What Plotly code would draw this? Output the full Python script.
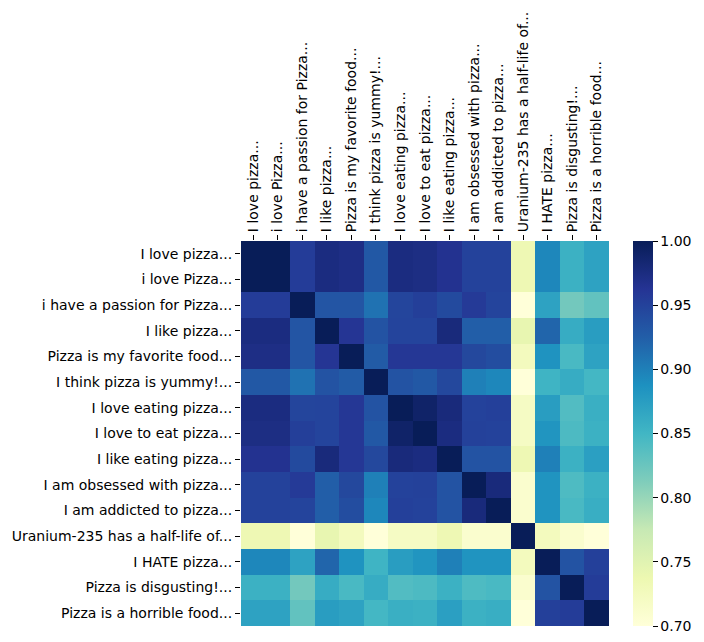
import plotly.graph_objects as go

labels = [
    "I love pizza...", "i love Pizza...", "i have a passion for Pizza...",
    "I like pizza...", "Pizza is my favorite food...", "I think pizza is yummy!...",
    "I love eating pizza...", "I love to eat pizza...", "I like eating pizza...",
    "I am obsessed with pizza...", "I am addicted to pizza...",
    "Uranium-235 has a half-life of...", "I HATE pizza...",
    "Pizza is disgusting!...", "Pizza is a horrible food...",
]

row_00 = [1.000, 1.000, 0.955, 0.975, 0.972, 0.930, 0.975, 0.973, 0.965, 0.950, 0.950, 0.735, 0.895, 0.855, 0.870]
row_01 = [1.000, 1.000, 0.955, 0.975, 0.972, 0.930, 0.975, 0.973, 0.965, 0.950, 0.950, 0.735, 0.895, 0.855, 0.870]
row_02 = [0.955, 0.955, 1.000, 0.933, 0.933, 0.910, 0.947, 0.953, 0.943, 0.957, 0.948, 0.700, 0.870, 0.820, 0.830]
row_03 = [0.975, 0.975, 0.933, 1.000, 0.962, 0.935, 0.948, 0.948, 0.978, 0.925, 0.925, 0.742, 0.920, 0.860, 0.875]
row_04 = [0.972, 0.972, 0.933, 0.962, 1.000, 0.928, 0.960, 0.960, 0.960, 0.945, 0.940, 0.725, 0.885, 0.845, 0.870]
row_05 = [0.930, 0.930, 0.910, 0.935, 0.928, 1.000, 0.935, 0.930, 0.945, 0.900, 0.895, 0.700, 0.852, 0.860, 0.848]
row_06 = [0.975, 0.975, 0.947, 0.948, 0.960, 0.935, 1.000, 0.990, 0.978, 0.950, 0.952, 0.720, 0.875, 0.840, 0.857]
row_07 = [0.973, 0.973, 0.953, 0.948, 0.960, 0.930, 0.990, 1.000, 0.975, 0.951, 0.950, 0.720, 0.883, 0.843, 0.855]
row_08 = [0.965, 0.965, 0.943, 0.978, 0.960, 0.945, 0.978, 0.975, 1.000, 0.935, 0.935, 0.735, 0.900, 0.855, 0.873]
row_09 = [0.950, 0.950, 0.957, 0.925, 0.945, 0.900, 0.950, 0.951, 0.935, 1.000, 0.978, 0.710, 0.884, 0.842, 0.855]
row_10 = [0.950, 0.950, 0.948, 0.925, 0.940, 0.895, 0.952, 0.950, 0.935, 0.978, 1.000, 0.710, 0.884, 0.845, 0.858]
row_11 = [0.735, 0.735, 0.700, 0.742, 0.725, 0.700, 0.720, 0.720, 0.735, 0.710, 0.710, 1.000, 0.725, 0.710, 0.700]
row_12 = [0.895, 0.895, 0.870, 0.920, 0.885, 0.852, 0.875, 0.883, 0.900, 0.884, 0.884, 0.725, 1.000, 0.935, 0.952]
row_13 = [0.855, 0.855, 0.820, 0.860, 0.845, 0.860, 0.840, 0.843, 0.855, 0.842, 0.845, 0.710, 0.935, 1.000, 0.955]
row_14 = [0.870, 0.870, 0.830, 0.875, 0.870, 0.848, 0.857, 0.855, 0.873, 0.855, 0.858, 0.700, 0.952, 0.955, 1.000]

matrix = [row_00, row_01, row_02, row_03, row_04, row_05, row_06, row_07,
          row_08, row_09, row_10, row_11, row_12, row_13, row_14]

colorbar_ticks = [0.70, 0.75, 0.80, 0.85, 0.90, 0.95, 1.00]

ylgnbu = ["#ffffd9", "#edf8b1", "#c7e9b4", "#7fcdbb", "#41b6c4",
          "#1d91c0", "#225ea8", "#253494", "#081d58"]
colorscale = [[i / (len(ylgnbu) - 1), c] for i, c in enumerate(ylgnbu)]

W, H = 704, 642
L, R, T, B = 238, 94, 241, 16
pw = W - L - R
FS = 14

fig = go.Figure(go.Heatmap(
    z=matrix, x=labels, y=labels,
    zmin=0.7, zmax=1.0, colorscale=colorscale,
    xgap=0, ygap=0,
    colorbar=dict(
        thickness=20, thicknessmode="pixels",
        len=1, lenmode="fraction", y=0.5, yanchor="middle",
        x=(634 - L) / pw, xanchor="left", xpad=0, ypad=0,
        outlinewidth=0,
        tickvals=colorbar_ticks,
        ticktext=[f"{v:.2f}" for v in colorbar_ticks],
        ticks="outside", ticklen=5, tickwidth=1, tickcolor="black",
        tickfont=dict(family="DejaVu Sans", size=FS, color="black"),
    ),
))

fig.update_layout(
    width=W, height=H,
    margin=dict(l=L, r=R, t=T, b=B),
    paper_bgcolor="white", plot_bgcolor="white",
    font=dict(family="DejaVu Sans", size=FS, color="black"),
    xaxis=dict(side="top", tickangle=-90, ticks="outside", ticklen=5,
               tickwidth=1, tickcolor="black", showgrid=False, zeroline=False,
               showline=False, tickfont=dict(size=FS)),
    yaxis=dict(autorange="reversed", ticks="outside", ticklen=5, tickwidth=1,
               tickcolor="black", showgrid=False, zeroline=False, showline=False,
               tickfont=dict(size=FS)),
)

fig.write_html("out.html")
